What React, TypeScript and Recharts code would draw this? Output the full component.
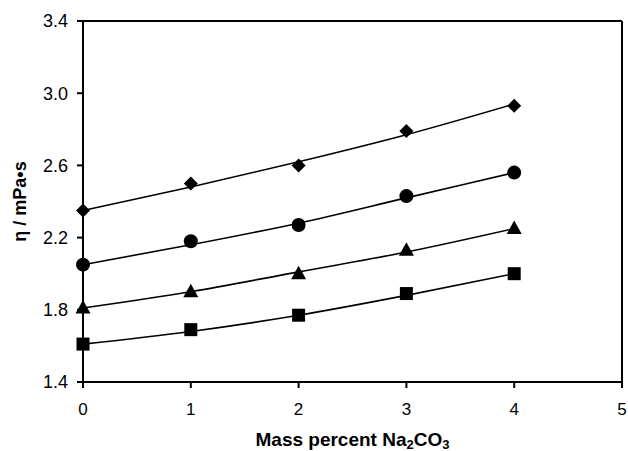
import { ComposedChart, Line, XAxis, YAxis, ReferenceLine, Label } from 'recharts'

const massPercent = [0, 1, 2, 3, 4]

// measured points
const diamondPts = [2.35, 2.5, 2.6, 2.79, 2.93]
const circlePts = [2.05, 2.18, 2.27, 2.43, 2.56]
const trianglePts = [1.81, 1.9, 2.0, 2.13, 2.25]
const squarePts = [1.61, 1.69, 1.77, 1.89, 2.0]

// fitted curves, read at the same x values
const diamondFit = [2.35, 2.48, 2.62, 2.77, 2.94]
const circleFit = [2.05, 2.16, 2.28, 2.42, 2.56]
const triangleFit = [1.81, 1.9, 2.01, 2.12, 2.25]
const squareFit = [1.61, 1.68, 1.77, 1.88, 2.0]

const xTicks = [0, 1, 2, 3, 4, 5]
const yTicks = [1.4, 1.8, 2.2, 2.6, 3.0, 3.4]

const data = massPercent.map((x, i) => ({
  x,
  d: diamondPts[i],
  c: circlePts[i],
  t: trianglePts[i],
  s: squarePts[i],
  dFit: diamondFit[i],
  cFit: circleFit[i],
  tFit: triangleFit[i],
  sFit: squareFit[i],
}))

const FONT = '"Liberation Sans", Arial, sans-serif'

const Diamond = (p: any) => {
  const { cx, cy } = p
  if (cx == null || cy == null) return null
  const r = 7
  return <path d={`M${cx},${cy - r}L${cx + r},${cy}L${cx},${cy + r}L${cx - r},${cy}Z`} fill="#000" />
}
const Circle = (p: any) => {
  const { cx, cy } = p
  if (cx == null || cy == null) return null
  return <circle cx={cx} cy={cy} r={7} fill="#000" />
}
const Triangle = (p: any) => {
  const { cx, cy } = p
  if (cx == null || cy == null) return null
  return <path d={`M${cx},${cy - 8}L${cx + 7.5},${cy + 5.5}L${cx - 7.5},${cy + 5.5}Z`} fill="#000" />
}
const Square = (p: any) => {
  const { cx, cy } = p
  if (cx == null || cy == null) return null
  return <rect x={cx - 6.5} y={cy - 6.5} width={13} height={13} fill="#000" />
}

const fits = ['dFit', 'cFit', 'tFit', 'sFit']
const markers: [string, (p: any) => any][] = [
  ['d', Diamond],
  ['c', Circle],
  ['t', Triangle],
  ['s', Square],
]

export default function App() {
  return (
    <div style={{ position: 'absolute', left: 0, top: 0, background: '#fff' }}>
      <ComposedChart
        width={628}
        height={451}
        data={data}
        margin={{ top: 21, right: 6, bottom: 0, left: 0 }}
        style={{ fontFamily: FONT }}
      >
        <XAxis
          type="number"
          dataKey="x"
          domain={[0, 5]}
          ticks={xTicks}
          height={69}
          tickSize={6}
          tickMargin={15}
          stroke="#000"
          strokeWidth={2}
          tick={{ fill: '#000', fontSize: 17, fontFamily: FONT }}
          label={{
            content: (props: any) => {
              const vb = props.viewBox || { x: 83, y: 382, width: 539 }
              return (
                <text
                  x={vb.x + vb.width / 2}
                  y={vb.y + 64}
                  textAnchor="middle"
                  fontFamily={FONT}
                  fontWeight="bold"
                  fontSize={19}
                  fill="#000"
                >
                  Mass percent Na
                  <tspan fontSize={13} dy={3}>2</tspan>
                  <tspan dy={-3}>CO</tspan>
                  <tspan fontSize={13} dy={3}>3</tspan>
                </text>
              )
            },
          }}
        />
        <YAxis
          type="number"
          domain={[1.4, 3.4]}
          ticks={yTicks}
          width={83}
          tickSize={6}
          tickMargin={9}
          stroke="#000"
          strokeWidth={2}
          tickFormatter={(v: number) => v.toFixed(1)}
          tick={{ fill: '#000', fontSize: 18, fontFamily: FONT }}
        >
          <Label
            content={(props: any) => {
              const vb = props.viewBox || { x: 0, y: 21, width: 83, height: 361 }
              const x = vb.x + 20
              const y = vb.y + vb.height / 2
              return (
                <text
                  x={x}
                  y={y}
                  transform={`rotate(-90, ${x}, ${y})`}
                  textAnchor="middle"
                  dominantBaseline="central"
                  fontFamily={FONT}
                  fontWeight="bold"
                  fontSize={18}
                  fill="#000"
                >
                  η / mPa•s
                </text>
              )
            }}
          />
        </YAxis>
        <ReferenceLine y={3.4} stroke="#000" strokeWidth={2} />
        <ReferenceLine x={5} stroke="#000" strokeWidth={2} />
        {fits.map(k => (
          <Line
            key={k}
            type="monotone"
            dataKey={k}
            stroke="#000"
            strokeWidth={1.6}
            dot={false}
            activeDot={false}
            isAnimationActive={false}
          />
        ))}
        {markers.map(([k, Shape]) => (
          <Line
            key={k}
            dataKey={k}
            stroke="none"
            dot={(p: any) => <Shape key={`${k}-${p.index}`} {...p} />}
            activeDot={false}
            isAnimationActive={false}
          />
        ))}
      </ComposedChart>
    </div>
  )
}
